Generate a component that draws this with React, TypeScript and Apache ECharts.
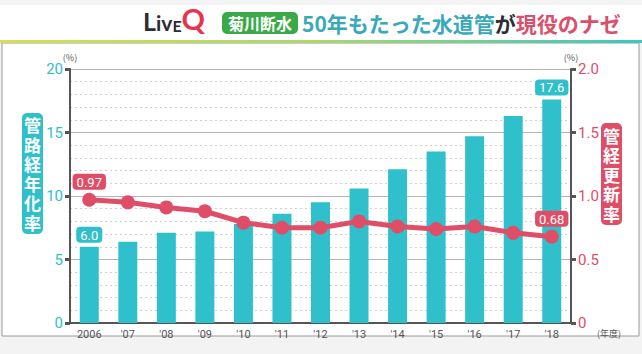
import React, { useEffect, useRef } from "react";
import * as echarts from "echarts";

const categories = ["2006", "'07", "'08", "'09", "'10", "'11", "'12", "'13", "'14", "'15", "'16", "'17", "'18"];
const agingRate = [6.0, 6.4, 7.1, 7.2, 7.8, 8.6, 9.5, 10.6, 12.1, 13.5, 14.7, 16.3, 17.6];
const renewalRate = [0.97, 0.95, 0.91, 0.88, 0.79, 0.75, 0.75, 0.8, 0.76, 0.74, 0.76, 0.71, 0.68];
const leftTicks = { min: 0, max: 20, interval: 5 };
const rightTicks = { min: 0, max: 2, interval: 0.5 };
const leftName = "管路経年化率";
const rightName = "管経更新率";

const TEAL = "#2fc0cb";
const RED = "#df4d67";
const AXIS = "#555555";
const FONT = "'Noto Sans CJK JP', 'Noto Sans', sans-serif";

export default function App() {
  const ref = useRef<HTMLDivElement>(null);
  useEffect(() => {
    if (!ref.current) return;
    const chart = echarts.init(ref.current, null, { renderer: "svg" });
    const last = categories.length - 1;
    const barData = agingRate.map((v, i) =>
      i === 0 || i === last
        ? {
            value: v,
            label: {
              show: true,
              position: "top",
              distance: 4,
              formatter: (p: any) => Number(p.value).toFixed(1),
              color: "#fff",
              backgroundColor: TEAL,
              borderRadius: 4,
              padding: [2, 4, 1, 4],
              fontSize: 13,
              fontFamily: "Roboto, sans-serif",
            },
          }
        : v
    );
    const lineData = renewalRate.map((v, i) =>
      i === 0 || i === last
        ? {
            value: v,
            label: {
              show: true,
              position: "top",
              distance: 3,
              formatter: (p: any) => Number(p.value).toFixed(2),
              color: "#fff",
              backgroundColor: RED,
              borderRadius: 4,
              padding: [2, 4, 1, 4],
              fontSize: 13,
              fontFamily: "Roboto, sans-serif",
            },
          }
        : v
    );
    const verticalChars = (s: string, cx: number, cy: number) => {
      const chars = s.split("");
      const step = 19.5;
      const start = cy - ((chars.length - 1) * step) / 2;
      return chars.map((ch, i) => ({
        type: "text",
        x: cx,
        y: start + i * step,
        style: {
          text: ch,
          fill: "#fff",
          fontSize: 17,
          fontWeight: "bold",
          fontFamily: FONT,
          align: "center",
          verticalAlign: "middle",
        },
      }));
    };
    chart.setOption({
      animation: false,
      backgroundColor: "#f3f3f3",
      graphic: [
        { type: "rect", z: -10, shape: { x: 0, y: 5, width: 642, height: 36 }, style: { fill: "#ffffff" } },
        {
          type: "rect",
          z: -10,
          shape: { x: 2, y: 43, width: 637, height: 293 },
          style: { fill: "#ffffff", stroke: "#9a9a9a", lineWidth: 1 },
        },
        {
          type: "rect",
          z: -5,
          shape: { x: 0, y: 40, width: 642, height: 3 },
          style: {
            fill: new echarts.graphic.LinearGradient(0, 0, 1, 0, [
              { offset: 0, color: "#d6dd5a" },
              { offset: 0.5, color: "#a8d86a" },
              { offset: 1, color: "#3cc6c2" },
            ]),
          },
        },
        {
          type: "text",
          x: 143,
          y: 33,
          style: {
            text: "{a|L}{b|iv}{c|E}{q|Q}",
            verticalAlign: "bottom",
            rich: {
              a: { fontSize: 25, fontWeight: "bold", fill: "#2c2c34", fontFamily: "Lato, sans-serif", verticalAlign: "bottom" },
              b: { fontSize: 21, fontWeight: "bold", fill: "#2c2c34", fontFamily: "Lato, sans-serif", verticalAlign: "bottom" },
              c: { fontSize: 16, fontWeight: "bold", fill: "#2c2c34", fontFamily: "Lato, sans-serif", verticalAlign: "bottom" },
              q: { fontSize: 29, fontWeight: "bold", fill: "#e8334d", fontFamily: "Lato, sans-serif", verticalAlign: "bottom" },
            },
          },
        },
        { type: "rect", shape: { x: 222, y: 12, width: 76, height: 22, r: 5 }, style: { fill: "#3aaa48" } },
        {
          type: "text",
          x: 260,
          y: 23,
          style: {
            text: "菊川断水",
            fill: "#fff",
            fontSize: 16,
            fontWeight: "bold",
            fontFamily: FONT,
            align: "center",
            verticalAlign: "middle",
          },
        },
        {
          type: "text",
          x: 302,
          y: 23,
          style: {
            text: "{t|50年もたった水道管}{d|が}{p|現役のナゼ}",
            verticalAlign: "middle",
            rich: {
              t: { fontSize: 21, fontWeight: "bold", fill: "#38a9b8", fontFamily: FONT },
              d: { fontSize: 21, fontWeight: "bold", fill: "#2c2c34", fontFamily: FONT },
              p: { fontSize: 21, fontWeight: "bold", fill: "#d9506c", fontFamily: FONT },
            },
          },
        },
        { type: "rect", shape: { x: 22, y: 113, width: 21, height: 121, r: 5 }, style: { fill: TEAL } },
        ...verticalChars(leftName, 32.5, 173.5),
        { type: "rect", shape: { x: 601, y: 123, width: 21, height: 102, r: 5 }, style: { fill: RED } },
        ...verticalChars(rightName, 611.5, 174),
        {
          type: "text",
          x: 597,
          y: 333,
          style: { text: "(年度)", fill: "#555", fontSize: 9, fontFamily: FONT, verticalAlign: "middle" },
        },
      ],
      grid: { left: 70, right: 71, top: 69, bottom: 31, containLabel: false },
      xAxis: {
        type: "category",
        data: categories,
        axisLine: { lineStyle: { color: AXIS, width: 2 } },
        axisTick: { show: false },
        axisLabel: { color: "#555", fontSize: 11, margin: 6, fontFamily: "Roboto, sans-serif" },
      },
      yAxis: [
        {
          type: "value",
          min: leftTicks.min,
          max: leftTicks.max,
          interval: leftTicks.interval,
          name: "(%)",
          nameLocation: "end",
          nameGap: 5,
          nameTextStyle: { color: "#555", fontSize: 9, fontFamily: FONT, align: "center" },
          axisLine: { show: true, lineStyle: { color: AXIS, width: 2 } },
          axisTick: { show: true, length: 5, lineStyle: { color: AXIS, width: 3 } },
          axisLabel: { color: TEAL, fontSize: 15, margin: 7, fontFamily: "Roboto, sans-serif" },
          splitLine: { show: true, lineStyle: { color: "#b5b5b5", width: 1 } },
          minorTick: { show: false, splitNumber: 5 },
          minorSplitLine: { show: true, lineStyle: { color: "#cfcfcf", type: [2, 3], width: 1 } },
        },
        {
          type: "value",
          min: rightTicks.min,
          max: rightTicks.max,
          interval: rightTicks.interval,
          name: "(%)",
          nameLocation: "end",
          nameGap: 5,
          nameTextStyle: { color: "#555", fontSize: 9, fontFamily: FONT, align: "center" },
          axisLine: { show: true, lineStyle: { color: AXIS, width: 2 } },
          axisTick: { show: true, length: 5, lineStyle: { color: AXIS, width: 3 } },
          axisLabel: {
            color: RED,
            fontSize: 15,
            margin: 7,
            fontFamily: "Roboto, sans-serif",
            formatter: (v: number) => (v === 0 ? "0" : v.toFixed(1)),
          },
          splitLine: { show: false },
        },
      ],
      series: [
        {
          type: "bar",
          yAxisIndex: 0,
          data: barData,
          barWidth: 19,
          itemStyle: { color: TEAL },
        },
        {
          type: "line",
          yAxisIndex: 1,
          data: lineData,
          symbol: "circle",
          symbolSize: 14,
          lineStyle: { color: RED, width: 5 },
          itemStyle: { color: RED },
          z: 5,
        },
      ],
    });
    return () => chart.dispose();
  }, []);
  return <div ref={ref} style={{ position: "fixed", left: 0, top: 0, width: 642, height: 354 }} />;
}
